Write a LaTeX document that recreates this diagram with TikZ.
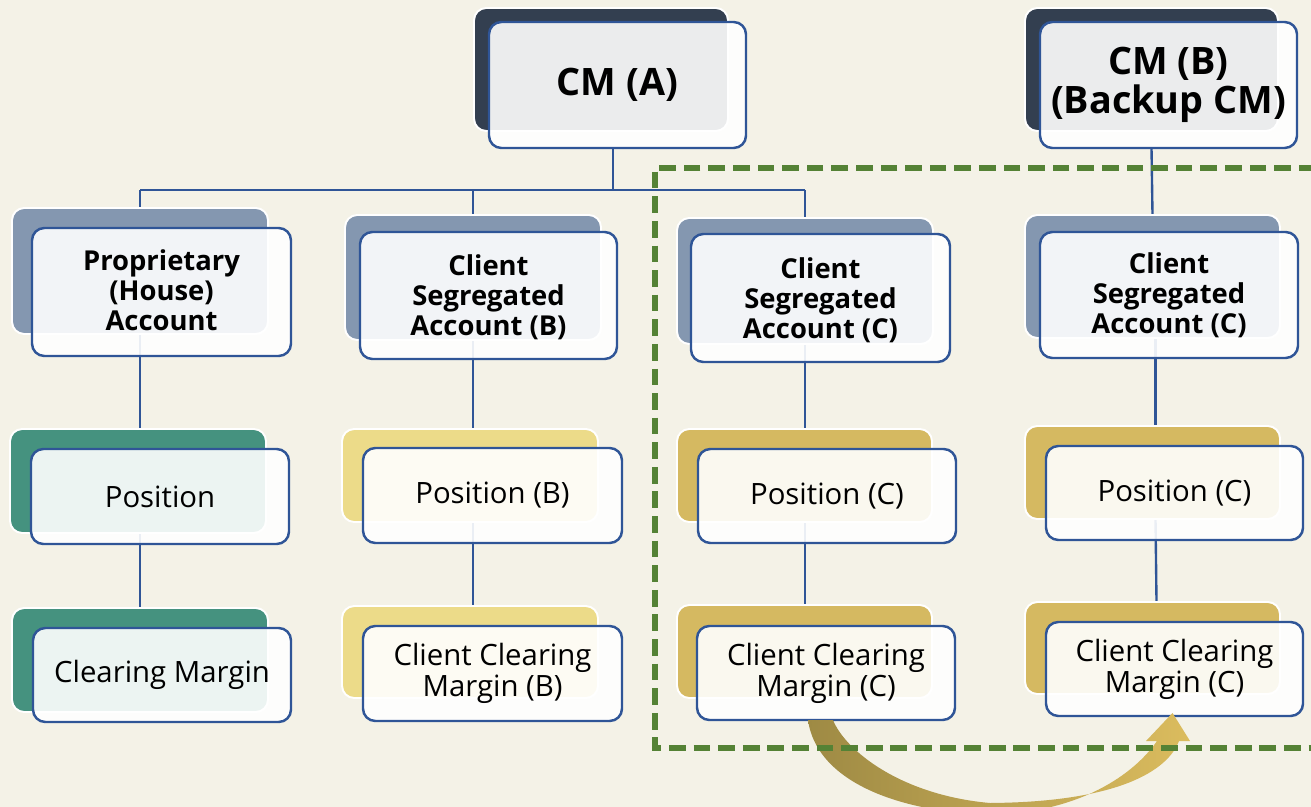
\documentclass[tikz,border=0pt]{standalone}
\usepackage{fontspec}
\setmainfont{Open Sans}
\usetikzlibrary{calc}

\definecolor{paper}{HTML}{F4F2E7}
\definecolor{navy}{HTML}{333F50}
\definecolor{slate}{HTML}{8497B0}
\definecolor{teal}{HTML}{45927F}
\definecolor{straw}{HTML}{ECDB89}
\definecolor{gold}{HTML}{D5B961}
\definecolor{edgeblue}{HTML}{2F5597}
\definecolor{dashgreen}{HTML}{548235}
\definecolor{arrowdark}{HTML}{9E8A44}
\definecolor{arrowlight}{HTML}{DBBC5E}

\pgfdeclarelayer{bg}
\pgfsetlayers{bg,main}

% back plate: coloured, white rim
\newcommand\plate[6]{%
  \node[backbox, fill=#2, minimum width=#5*0.02cm, minimum height=#6*0.02cm,
        anchor=north west] (#1) at (#3,#4) {};}

\begin{document}
\begin{tikzpicture}[x=0.02cm, y=-0.02cm,
  backbox/.style={draw=white, line width=1.1pt, rounded corners=7pt,
                  inner sep=0pt, outer sep=0pt},
  frontbox/.style={draw=edgeblue, line width=1.4pt, rounded corners=7pt,
                   fill=white, fill opacity=0.9, inner sep=0pt, outer sep=0pt},
  link/.style={draw=edgeblue, line width=1.35pt},
  headfont/.style={font=\fontsize{21.5pt}{22pt}\selectfont\bfseries, align=center},
  acctfont/.style={font=\fontsize{15.6pt}{17pt}\selectfont\bfseries, align=center},
  itemfont/.style={font=\fontsize{16.7pt}{17.6pt}\selectfont, align=center}]

\useasboundingbox (0,0) rectangle (1311,807);
\begin{pgfonlayer}{bg}
  \fill[paper] (0,0) rectangle (1311,807);
\end{pgfonlayer}
\clip (0,0) rectangle (1311,807);

% ---------- clearing members ----------
\plate{cmAb}{navy}{474}{8}{254}{123}
\node[frontbox, minimum width=257*0.02cm, minimum height=126*0.02cm,
      anchor=north west] (cmAf) at (489,22) {};
\node[headfont] (cmAt) at (cmAf.center) {CM (A)};

\plate{cmBb}{navy}{1025}{8}{253}{123}
\node[frontbox, minimum width=257*0.02cm, minimum height=126*0.02cm,
      anchor=north west] (cmBf) at (1040,22) {};
\node[headfont] (cmBt) at (cmBf.center) {CM (B)\\(Backup CM)};

% ---------- accounts ----------
\plate{a1b}{slate}{12}{208}{256}{126}
\node[frontbox, minimum width=259*0.02cm, minimum height=128*0.02cm,
      anchor=north west] (a1f) at (32,228) {};
\node[acctfont] (a1t) at ($(a1f.center)+(0,-2)$) {Proprietary\\(House)\\Account};

\plate{a2b}{slate}{345}{215}{256}{125}
\node[frontbox, minimum width=257*0.02cm, minimum height=127*0.02cm,
      anchor=north west] (a2f) at (360,232) {};
\node[acctfont] (a2t) at ($(a2f.center)+(0,2)$) {Client\\Segregated\\Account (B)};

\plate{a3b}{slate}{677}{218}{256}{126}
\node[frontbox, minimum width=259*0.02cm, minimum height=128*0.02cm,
      anchor=north west] (a3f) at (691,234) {};
\node[acctfont] (a3t) at ($(a3f.center)+(0,2)$) {Client\\Segregated\\Account (C)};

\plate{a4b}{slate}{1025}{215}{255}{123}
\node[frontbox, minimum width=258*0.02cm, minimum height=126*0.02cm,
      anchor=north west] (a4f) at (1040,232) {};
\node[acctfont] (a4t) at ($(a4f.center)+(0,0)$) {Client\\Segregated\\Account (C)};

% ---------- positions ----------
\plate{p1b}{teal}{10}{429}{256}{104}
\node[frontbox, minimum width=258*0.02cm, minimum height=95*0.02cm,
      anchor=north west] (p1f) at (31,449) {};
\node[itemfont] (p1t) at (p1f.center) {Position};

\plate{p2b}{straw}{342}{429}{256}{93}
\node[frontbox, minimum width=259*0.02cm, minimum height=95*0.02cm,
      anchor=north west] (p2f) at (363,448) {};
\node[itemfont] (p2t) at (p2f.center) {Position (B)};

\plate{p3b}{gold}{677}{429}{255}{93}
\node[frontbox, minimum width=258*0.02cm, minimum height=94*0.02cm,
      anchor=north west] (p3f) at (698,449) {};
\node[itemfont] (p3t) at (p3f.center) {Position (C)};

\plate{p4b}{gold}{1025}{426}{255}{93}
\node[frontbox, minimum width=257*0.02cm, minimum height=94*0.02cm,
      anchor=north west] (p4f) at (1046,446) {};
\node[itemfont] (p4t) at (p4f.center) {Position (C)};

% ---------- margins ----------
\plate{m1b}{teal}{12}{608}{256}{104}
\node[frontbox, minimum width=258*0.02cm, minimum height=94*0.02cm,
      anchor=north west] (m1f) at (33,628) {};
\node[itemfont] (m1t) at (m1f.center) {Clearing Margin};

\plate{m2b}{straw}{342}{606}{256}{92}
\node[frontbox, minimum width=259*0.02cm, minimum height=95*0.02cm,
      anchor=north west] (m2f) at (363,626) {};
\node[itemfont] (m2t) at (m2f.center) {Client Clearing\\Margin (B)};

\plate{m3b}{gold}{677}{605}{255}{93}
\node[frontbox, minimum width=258*0.02cm, minimum height=94*0.02cm,
      anchor=north west] (m3f) at (697,626) {};
\node[itemfont] (m3t) at (m3f.center) {Client Clearing\\Margin (C)};

\plate{m4b}{gold}{1025}{602}{255}{92}
\node[frontbox, minimum width=257*0.02cm, minimum height=94*0.02cm,
      anchor=north west] (m4f) at (1046,622) {};
\node[itemfont] (m4t) at (m4f.center) {Client Clearing\\Margin (C)};

% ---------- tree connectors (behind the cards) ----------
\coordinate (busA) at (613,190);
\begin{pgfonlayer}{bg}
  \draw[link] (cmAf.south -| busA) -- (busA);
  \draw[link] (a1b.north |- busA) -- (a3b.north |- busA);
  \foreach \c in {a1b,a2b,a3b} \draw[link] (\c.north |- busA) -- (\c.north);
  \draw[link] (cmBb.south |- cmBf.south) -- (a4b.north);
  \foreach \i in {1,2,3} {
    \draw[link] (a\i b.south) -- (a\i b.south |- p\i b.north);
    \draw[link] (a\i b.south |- p\i b.south) -- (a\i b.south |- m\i b.north);
  }
  \draw[link] ($(a4b.south)+(3,0)$) -- ($(p4b.north)+(3,0)$);
  \draw[link] ($(p4b.south)+(3,0)$) -- ($(m4b.north)+(4,0)$);
\end{pgfonlayer}

% ---------- transfer arrow ----------
\coordinate (tailL) at ($(m3f.south)+(-18,0)$);
\coordinate (tailR) at ($(m3f.south)+(7,0)$);
\coordinate (tip) at ($(m4f.south)+(-2,-3)$);
\shade[left color=arrowdark, right color=arrowlight]
  (tailL) .. controls (818,790) and (920,814) .. (990,814)
          .. controls (1070,814) and (1130,780) .. (1157,741)
  -- (1146,741) -- (tip) -- (1190,741) -- (1179,741)
          .. controls (1168,770) and (1120,802) .. (990,803)
          .. controls (900,795) and (845,750) .. (tailR) -- cycle;

% ---------- portability boundary ----------
\draw[dashgreen, line width=3.2pt, dash pattern=on 9.5pt off 4.5pt]
  (1340,168) -- (655,168) -- (655,748) -- (1340,748);

\end{tikzpicture}
\end{document}
